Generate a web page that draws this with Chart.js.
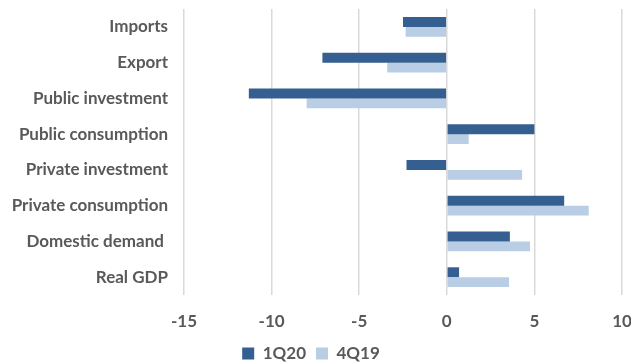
<!DOCTYPE html>
<html><head><meta charset="utf-8">
<script src="https://cdn.jsdelivr.net/npm/chart.js@4"></script>
<style>html,body{margin:0;padding:0;background:#fff}#w{width:631px;height:364px}</style>
</head><body><div id="w"><canvas id="c"></canvas></div>
<script>
const categories = ["Imports","Export","Public investment","Public consumption","Private investment","Private consumption","Domestic demand ","Real GDP"];
const q1_20 = [-2.5,-7.1,-11.3,5.0,-2.3,6.7,3.6,0.7];
const q4_19 = [-2.35,-3.4,-8.0,1.25,4.3,8.1,4.75,3.55];
const xTicks = [-15,-10,-5,0,5,10];
const FONT = "Lato, Calibri, 'Open Sans', sans-serif";
new Chart(document.getElementById('c'), {
  type:'bar',
  data:{labels:categories, datasets:[
    {label:'1Q20', data:q1_20, backgroundColor:'#355F91', borderWidth:0},
    {label:'4Q19', data:q4_19, backgroundColor:'#B9CDE5', borderWidth:0}
  ]},
  options:{
    indexAxis:'y', responsive:true, maintainAspectRatio:false, animation:false,
    layout:{padding:{top:9,right:9,left:0,bottom:-8}},
    datasets:{bar:{categoryPercentage:0.55,barPercentage:1}},
    plugins:{legend:{position:'bottom',labels:{boxWidth:12,boxHeight:12,padding:10,color:'#595959',font:{family:FONT,size:17,weight:'bold'}}},tooltip:{enabled:false}},
    scales:{
      x:{min:-15,max:10,
        afterBuildTicks(s){s.ticks=xTicks.map(v=>({value:v}));},
        afterFit(s){s.height=40;s.paddingLeft=0;s.paddingRight=0;},
        grid:{color:'#D9D9D9',lineWidth:1.5,drawTicks:false},border:{display:false},
        ticks:{padding:16,color:'#595959',font:{family:FONT,size:17,weight:'bold'}}},
      y:{grid:{display:false,drawTicks:false},border:{display:false},
        afterFit(s){s.width=184;s.paddingTop=0;s.paddingBottom=0;},
        ticks:{padding:16,color:'#595959',font:{family:FONT,size:17,weight:'bold'}}}
    }
  }
});
</script></body></html>
